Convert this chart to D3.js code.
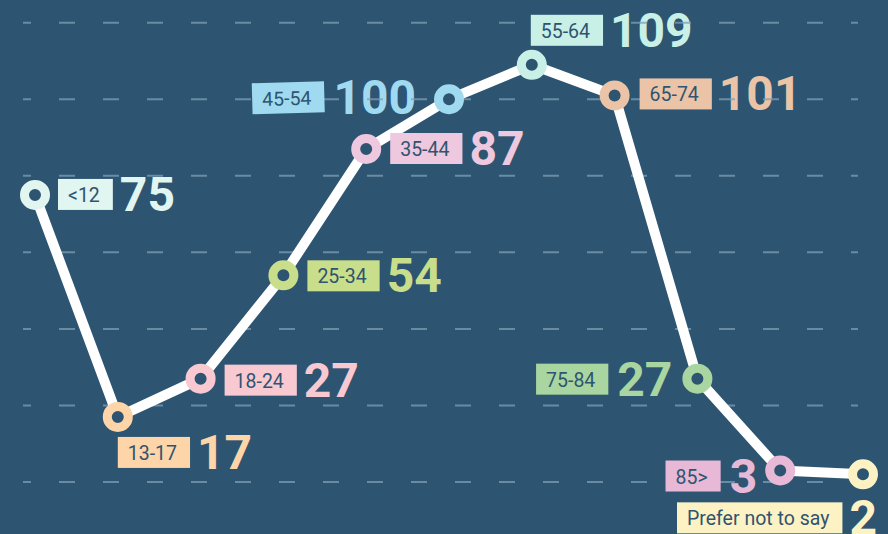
<!DOCTYPE html>
<html>
<head>
<meta charset="utf-8">
<script src="https://cdn.jsdelivr.net/npm/d3@7"></script>
<style>
    html, body { margin: 0; padding: 0; background: #2d5572; }
    svg { display: block; font-family: Roboto, "Open Sans", sans-serif; }
</style>
</head>
<body>
<svg id="chart"></svg>
<script>
const ageGroups = ["<12", "13-17", "18-24", "25-34", "35-44", "45-54", "55-64", "65-74", "75-84", "85>", "Prefer not to say"];
const counts = [75, 17, 27, 54, 87, 100, 109, 101, 27, 3, 2];
const groupColors = ["#e1f6f1", "#fdd5a8", "#f9c9d2", "#c9de8b", "#eec8de", "#9fdaf0",
                     "#c9f0e7", "#ebc4a7", "#a9d6a0", "#e7b9d6", "#fdf2c4"];
const gridTicks = [0, 20, 40, 60, 80, 100, 120];

// label placement relative to each point: [dx, dy, side]
const labelPlacement = [
    [23, -16, "r"], [0, 20, "r"], [24, -14, "r"], [24, -15, "r"], [24, -16, "r"],
    [-33, -17, "l"], [-1, -50, "r"], [25, -17, "r"], [-25, -15, "l"], [-23, -10, "l"],
    [-186, 28, "r"]
];

const width = 888, height = 534;
const bg = "#2d5572";
const inkColor = "#2f5470";

const svg = d3.select("#chart").attr("width", width).attr("height", height);
svg.append("rect").attr("width", width).attr("height", height).attr("fill", bg);

const x = d3.scalePoint().domain(ageGroups).range([35, 863]);
const y = d3.scaleLinear().domain([0, 120]).range([482, 22.7]);

const points = ageGroups.map((g, i) => ({group: g, value: counts[i], color: groupColors[i], place: labelPlacement[i]}));

const numberLayer = svg.append("g");
const gridLayer = svg.append("g");
const lineLayer = svg.append("g");
const labelLayer = svg.append("g");

gridLayer.selectAll("line")
    .data(gridTicks)
    .join("line")
    .attr("x1", 23).attr("x2", 858)
    .attr("y1", d => y(d)).attr("y2", d => y(d))
    .attr("stroke", "#7f9fb4")
    .attr("stroke-opacity", 0.75)
    .attr("stroke-width", 2)
    .attr("stroke-dasharray", "16,28")
    .attr("stroke-dashoffset", 8);

lineLayer.append("path")
    .datum(points)
    .attr("d", d3.line().x(d => x(d.group)).y(d => y(d.value)))
    .attr("fill", "none")
    .attr("stroke", "#fff")
    .attr("stroke-width", 10)
    .attr("stroke-linejoin", "round");

lineLayer.selectAll("circle")
    .data(points)
    .join("circle")
    .attr("cx", d => x(d.group))
    .attr("cy", d => y(d.value))
    .attr("r", 10.5)
    .attr("fill", bg)
    .attr("stroke", d => d.color)
    .attr("stroke-width", 9);

const boxH = 31;
points.forEach(d => {
    const px = x(d.group), py = y(d.value);
    const [dx, dy, side] = d.place;
    const g = labelLayer.append("g");
    const rect = g.append("rect").attr("height", boxH).attr("fill", d.color);
    const label = g.append("text")
        .attr("font-size", 19.5)
        .attr("fill", inkColor)
        .text(d.group);
    const num = numberLayer.append("text")
        .attr("font-size", 48)
        .attr("font-weight", 700)
        .attr("fill", d.color)
        .text(d.value);

    const boxW = label.node().getComputedTextLength() + 23;
    const numW = num.node().getComputedTextLength();
    const boxY = py + dy;
    let boxX;
    if (side === "l") {
        const numX = px + dx - numW;
        boxX = numX - 9 - boxW;
        num.attr("x", numX);
    } else {
        boxX = px + dx;
        num.attr("x", boxX + boxW + 7);
    }
    num.attr("y", boxY + boxH + 1);
    rect.attr("x", boxX).attr("y", boxY).attr("width", boxW);
    label.attr("x", boxX + 10).attr("y", boxY + 23);
    if (d.group === "45-54") {
        g.attr("transform", `rotate(-1.5 ${boxX + boxW / 2} ${boxY + boxH / 2})`);
    }
});
</script>
</body>
</html>
